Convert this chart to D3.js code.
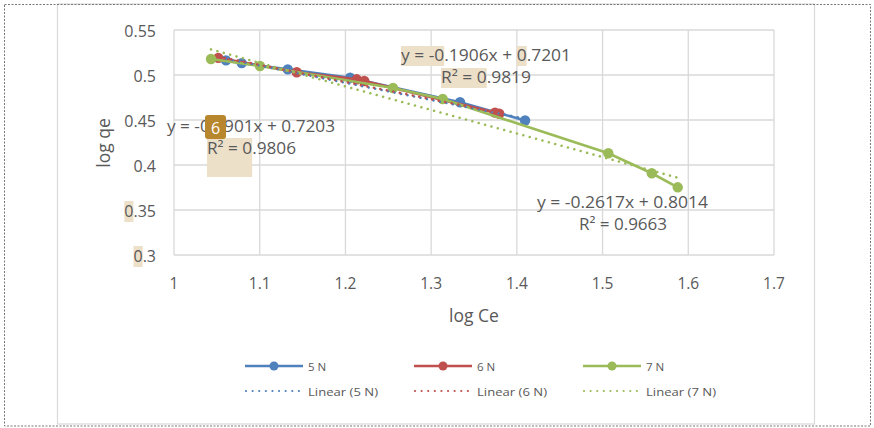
<!DOCTYPE html>
<html><head><meta charset="utf-8">
<script src="https://cdn.jsdelivr.net/npm/d3@7"></script>
<style>body{margin:0;background:#fff}svg{display:block;font-family:"Open Sans",sans-serif}</style>
</head><body><svg id="c" width="874" height="428"></svg>
<script>
// ---- data ----
const seriesNames = ["5 N", "6 N", "7 N"];
const x5 = [1.0607, 1.0790, 1.1327, 1.2054, 1.3337, 1.4096];
const y5 = [0.5162, 0.5132, 0.5063, 0.4970, 0.4697, 0.4495];
const x6 = [1.0517, 1.1432, 1.2132, 1.2220, 1.3745, 1.3795];
const y6 = [0.5190, 0.5030, 0.4952, 0.4933, 0.4582, 0.4570];
const x7 = [1.0432, 1.1003, 1.2555, 1.3135, 1.5067, 1.5574, 1.5877];
const y7 = [0.5178, 0.5100, 0.4856, 0.4733, 0.4130, 0.3908, 0.3752];
const trendSlopes = [-0.1906, -0.1901, -0.2617];
const trendIntercepts = [0.7201, 0.7203, 0.8014];
const trendR2 = [0.9819, 0.9806, 0.9663];
const xTicks = [1, 1.1, 1.2, 1.3, 1.4, 1.5, 1.6, 1.7];
const yTicks = [0.3, 0.35, 0.4, 0.45, 0.5, 0.55];
const xTitle = "log Ce", yTitle = "log qe";

// ---- setup ----
const colors = ["#4f81bd", "#c0504d", "#9bbb59"];
const txt = "#595959", grid = "#d9d9d9", tan = "#ede0c9";
const svg = d3.select("#c");
const xs = [x5, x6, x7], ys = [y5, y6, y7];
const x = d3.scaleLinear().domain([1, 1.7]).range([174, 774]);
const y = d3.scaleLinear().domain([0.3, 0.55]).range([255, 30]);

// frames
svg.append("rect").attr("x", 57.5).attr("y", 4).attr("width", 757).attr("height", 420)
  .attr("fill", "#fff").attr("stroke", grid).attr("stroke-width", 1.2);
svg.append("rect").attr("x", 4.5).attr("y", 4.5).attr("width", 866).attr("height", 421.5)
  .attr("fill", "none").attr("stroke", "#777").attr("stroke-width", 1).attr("stroke-dasharray", "2,1.5");

// gridlines
svg.append("g").selectAll("line").data(xTicks).join("line")
  .attr("x1", d => x(d)).attr("x2", d => x(d)).attr("y1", y(0.55)).attr("y2", y(0.3))
  .attr("stroke", grid).attr("stroke-width", 1.3);
svg.append("g").selectAll("line").data(yTicks).join("line")
  .attr("x1", x(1)).attr("x2", x(1.7)).attr("y1", d => y(d)).attr("y2", d => y(d))
  .attr("stroke", grid).attr("stroke-width", 1.3);

// tick labels
const xfmt = d => d3.format(".2~f")(d);
svg.append("g").selectAll("text").data(xTicks).join("text")
  .attr("x", d => x(d)).attr("y", 283).attr("text-anchor", "middle").attr("dominant-baseline", "central")
  .attr("fill", txt).attr("font-size", 15.5).text(xfmt);
const yLab = svg.append("g");
const yTexts = yLab.selectAll("text").data(yTicks).join("text")
  .attr("x", 156).attr("y", d => y(d) + 1).attr("text-anchor", "end").attr("dominant-baseline", "central")
  .attr("fill", txt).attr("font-size", 16).text(xfmt);

function highlight(textSel, start, n, y0, h) {
  const node = textSel.node();
  const s = node.getStartPositionOfChar(start).x;
  const e = node.getEndPositionOfChar(start + n - 1).x;
  node.parentNode.insertBefore(
    Object.assign(document.createElementNS("http://www.w3.org/2000/svg", "rect"), {}), node);
  const r = d3.select(node.previousSibling);
  r.attr("x", s).attr("y", y0).attr("width", e - s).attr("height", h).attr("fill", tan);
}
yTexts.each(function(d) {
  if (d === 0.35 || d === 0.3) highlight(d3.select(this), 0, 1, y(d) - 9, 21);
});

// axis titles
svg.append("text").attr("x", 474).attr("y", 315).attr("text-anchor", "middle").attr("dominant-baseline", "central")
  .attr("fill", txt).attr("font-size", 17.5).text(xTitle);
svg.append("text").attr("transform", "translate(103,143) rotate(-90)").attr("text-anchor", "middle")
  .attr("dominant-baseline", "central").attr("fill", txt).attr("font-size", 17.5).text(yTitle);

// series lines + markers
const line = d3.line().x(d => x(d[0])).y(d => y(d[1]));
seriesNames.forEach((name, i) => {
  const pts = xs[i].map((v, j) => [v, ys[i][j]]);
  const g = svg.append("g");
  g.append("path").attr("d", line(pts)).attr("fill", "none").attr("stroke", colors[i]).attr("stroke-width", 2.6);
  g.selectAll("circle").data(pts).join("circle").attr("cx", d => x(d[0])).attr("cy", d => y(d[1]))
    .attr("r", 5.2).attr("fill", colors[i]);
});
// trendlines
seriesNames.forEach((name, i) => {
  const ext = d3.extent(xs[i]);
  const pts = ext.map(v => [v, trendSlopes[i] * v + trendIntercepts[i]]);
  svg.append("path").attr("d", line(pts)).attr("fill", "none").attr("stroke", colors[i])
    .attr("stroke-width", 2.6).attr("stroke-linecap", "round").attr("stroke-dasharray", "0.01 6.6");
});

// trendline labels
function eq(i) {
  return "y = " + trendSlopes[i].toFixed(4) + "x + " + trendIntercepts[i].toFixed(4);
}
function r2(i) { return "R\u00b2 = " + trendR2[i].toFixed(4); }
function label(str, xp, yp, w) {
  return svg.append("text").attr("x", xp).attr("y", yp).attr("dominant-baseline", "central")
    .attr("fill", txt).attr("font-size", 16).attr("textLength", w).attr("lengthAdjust", "spacingAndGlyphs")
    .text(str);
}
const annG = svg.append("g");
// top (5 N)
const t1 = label(eq(0), 401, 55, 170);
highlight(t1, 0, 6, 46, 20);
highlight(t1, 15, 1, 46, 20);
const t2 = label(r2(0), 441, 77, 90);
highlight(t2, 0, 6, 68, 20);
// lower-left (6 N)
const t3 = label(eq(1), 167, 126, 168);
const t4 = label(r2(1), 207, 148, 89);
highlight(t4, 0, 6, 138, 39);
// badge
svg.append("rect").attr("x", 205).attr("y", 115).attr("width", 21).attr("height", 24).attr("rx", 3)
  .attr("fill", "#b8862c");
svg.append("text").attr("x", 215.5).attr("y", 127.5).attr("text-anchor", "middle").attr("dominant-baseline", "central")
  .attr("fill", "#fff").attr("font-size", 16).text("6");
// green (7 N)
label(eq(2), 537, 202, 171);
label(r2(2), 579, 224, 88);

// legend
const lg = svg.append("g");
seriesNames.forEach((name, i) => {
  const x0 = 245 + i * 169;
  lg.append("line").attr("x1", x0).attr("x2", x0 + 58).attr("y1", 366).attr("y2", 366)
    .attr("stroke", colors[i]).attr("stroke-width", 2.6);
  lg.append("circle").attr("cx", x0 + 29).attr("cy", 366).attr("r", 4.5).attr("fill", colors[i]);
  lg.append("text").attr("x", x0 + 63).attr("y", 366).attr("dominant-baseline", "central")
    .attr("fill", txt).attr("font-size", 11.5).text(name);
  lg.append("line").attr("x1", x0 + 1).attr("x2", x0 + 55).attr("y1", 391).attr("y2", 391)
    .attr("stroke", colors[i]).attr("stroke-width", 2.2).attr("stroke-linecap", "round")
    .attr("stroke-dasharray", "0.01 6.6");
  lg.append("text").attr("x", x0 + 63).attr("y", 391).attr("dominant-baseline", "central")
    .attr("fill", txt).attr("font-size", 11.5).attr("textLength", 70).attr("lengthAdjust", "spacingAndGlyphs")
    .text("Linear (" + name + ")");
});
</script></body></html>
